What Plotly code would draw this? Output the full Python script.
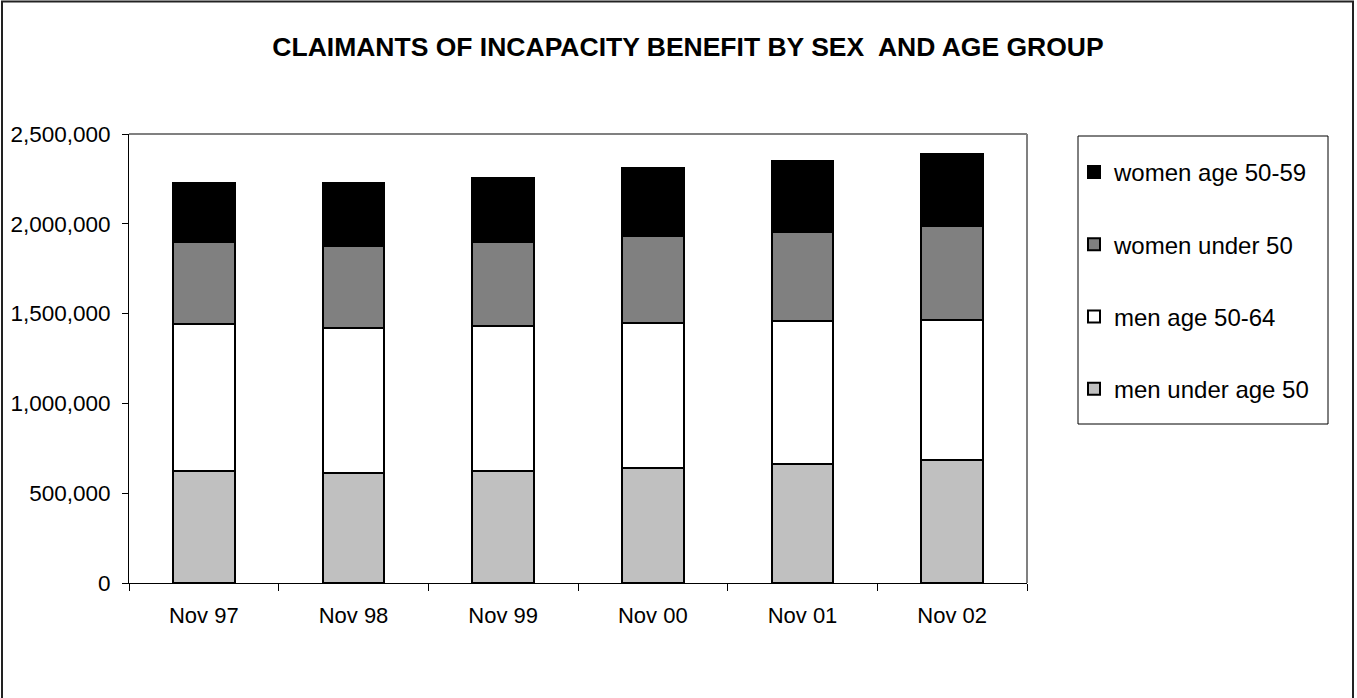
import plotly.graph_objects as go

categories = ["Nov 97", "Nov 98", "Nov 99", "Nov 00", "Nov 01", "Nov 02"]
men_under_50 = [621000, 610000, 625000, 641000, 664000, 686000]
men_50_64 = [822000, 810000, 804000, 805000, 797000, 781000]
women_under_50 = [455000, 459000, 469000, 488000, 496000, 522000]
women_50_59 = [331000, 346000, 359000, 379000, 393000, 402000]

series = [
    ("men under age 50", men_under_50, "#C0C0C0"),
    ("men age 50-64", men_50_64, "#FFFFFF"),
    ("women under 50", women_under_50, "#808080"),
    ("women age 50-59", women_50_59, "#000000"),
]

W, H = 1357, 698
L, R, T, B = 129, 1027, 134, 583  # plot area pixel bounds

fig = go.Figure()
n = len(series)
for i, (name, vals, col) in enumerate(series):
    fig.add_trace(go.Bar(
        x=categories, y=vals, name=name, legendgroup=f"g{i}", legendrank=n - i,
        marker=dict(color=col, line=dict(color="#000000", width=2)),
    ))

FONT = "Liberation Sans, Arial, sans-serif"
pw, ph = R - L, B - T

def px_x(p):
    return (p - L) / pw

def px_y(p):
    return (B - p) / ph

fig.update_layout(
    width=W, height=H,
    margin=dict(l=L, r=W - R, t=T, b=H - B, pad=0, autoexpand=False),
    barmode="stack", bargap=0.586,
    paper_bgcolor="white", plot_bgcolor="white",
    font=dict(family=FONT, color="black", size=22),
    title=dict(text="<b>CLAIMANTS OF INCAPACITY BENEFIT BY SEX  AND AGE GROUP</b>",
               x=688 / W, xanchor="center", y=1 - 47 / H, yanchor="middle",
               xref="container", yref="container",
               font=dict(size=26.5, family=FONT, color="black")),
    showlegend=True,
    legend=dict(x=px_x(1074), xanchor="left", y=px_y(150), yanchor="top",
                traceorder="grouped", tracegroupgap=38,
                borderwidth=0, bgcolor="rgba(0,0,0,0)",
                font=dict(size=24, family=FONT, color="black"),
                itemclick=False),
    xaxis=dict(showline=True, linecolor="black", linewidth=1, automargin=False,
               ticks="outside", ticklen=7, tickcolor="black", tickson="boundaries",
               ticklabelstandoff=13, showgrid=False, zeroline=False,
               tickfont=dict(size=22)),
    yaxis=dict(range=[0, 2500000], dtick=500000, tickformat=",", automargin=False,
               showline=True, linecolor="black", linewidth=1,
               ticks="outside", ticklen=6, tickcolor="black",
               ticklabelstandoff=7, showgrid=False, zeroline=False,
               tickfont=dict(size=22.5)),
    shapes=[
        dict(type="line", xref="paper", yref="paper", x0=0, x1=1, y0=1, y1=1,
             line=dict(color="#808080", width=2)),
        dict(type="line", xref="paper", yref="paper", x0=1, x1=1, y0=0, y1=1,
             line=dict(color="#808080", width=2)),
        dict(type="rect", xref="paper", yref="paper",
             x0=px_x(1078), x1=px_x(1328), y0=px_y(424), y1=px_y(136),
             line=dict(color="black", width=1), layer="below"),
        dict(type="rect", xref="paper", yref="paper",
             x0=px_x(2), x1=px_x(1353), y0=px_y(710), y1=px_y(1.5),
             line=dict(color="#222222", width=2), layer="below"),
    ],
)

fig.write_html("out.html", config={"displayModeBar": False},
               post_script="document.body.style.margin='0';")
